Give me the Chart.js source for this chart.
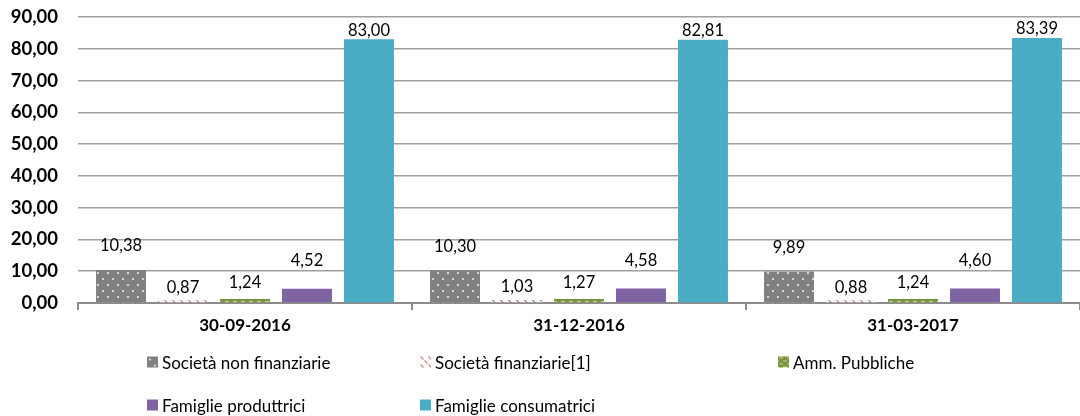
<!DOCTYPE html>
<html><head><meta charset="utf-8">
<script src="https://cdn.jsdelivr.net/npm/chart.js@4/dist/chart.umd.min.js"></script>
<style>
html,body{margin:0;padding:0;background:#fff;}
#wrap{position:relative;width:1080px;height:416px;overflow:hidden}
#legend{position:absolute;left:0;top:0;width:1080px;height:416px;pointer-events:none;font-family:Lato,'Open Sans',sans-serif;font-size:17px;color:#000}
.li{position:absolute;display:flex;align-items:center;white-space:nowrap;transform:translateY(-50%)}
.li canvas{width:11px;height:11px;margin-right:4px;display:block}
</style></head><body>
<div id="wrap"><canvas id="c" width="1080" height="416"></canvas><div id="legend"></div></div>
<script>
// ---- data ----
const categories = ['30-09-2016', '31-12-2016', '31-03-2017'];
const seriesNames = ['Società non finanziarie', 'Società finanziarie[1]', 'Amm. Pubbliche', 'Famiglie produttrici', 'Famiglie consumatrici'];
const societaNonFinanziarie = [10.38, 10.30, 9.89];
const societaFinanziarie = [0.87, 1.03, 0.88];
const ammPubbliche = [1.24, 1.27, 1.24];
const famiglieProduttrici = [4.52, 4.58, 4.60];
const famiglieConsumatrici = [83.00, 82.81, 83.39];
const yTickValues = [0, 10, 20, 30, 40, 50, 60, 70, 80, 90];

// ---- patterns ----
function makeTile(w, h, draw) {
  const c = document.createElement('canvas'); c.width = w; c.height = h;
  const x = c.getContext('2d'); draw(x); return c;
}
const dotTile = makeTile(10, 12, x => {
  x.fillStyle = '#808080'; x.fillRect(0, 0, 10, 12);
  x.fillStyle = '#d6d6d6'; x.fillRect(2, 2, 2, 2); x.fillRect(7, 8, 2, 2);
});
const diagTile = makeTile(8, 8, x => {
  x.fillStyle = '#ffffff'; x.fillRect(0, 0, 8, 8);
  x.fillStyle = '#d58b89';
  for (let i = 0; i < 3; i++) { x.fillRect(i, i, 1, 1); x.fillRect(4 + i, 4 + i, 1, 1); x.fillRect(i+1, i, 1, 1); x.fillRect(5 + i, 4 + i, 1, 1); }
});
const brickTile = makeTile(8, 6, x => {
  x.fillStyle = '#77933c'; x.fillRect(0, 0, 8, 6);
  x.fillStyle = '#c3d69b'; x.fillRect(1, 1, 4, 1); x.fillRect(5, 4, 3, 1); x.fillRect(0, 4, 1, 1);
});
const ctx = document.getElementById('c').getContext('2d');
const fills = [
  ctx.createPattern(dotTile, 'repeat'),
  ctx.createPattern(diagTile, 'repeat'),
  ctx.createPattern(brickTile, 'repeat'),
  '#8064a2',
  '#4bacc6'
];
const tiles = [dotTile, diagTile, brickTile, null, null];
const labelOffsets = [24, 13, 16, 28, 9];
const seriesData = [societaNonFinanziarie, societaFinanziarie, ammPubbliche, famiglieProduttrici, famiglieConsumatrici];

const fmt = v => v.toFixed(2).replace('.', ',');

const valueLabels = {
  id: 'valueLabels',
  afterDatasetsDraw(chart) {
    const c = chart.ctx;
    c.save();
    c.font = '16.5px Lato, sans-serif';
    c.fillStyle = '#000';
    c.textAlign = 'center';
    c.textBaseline = 'middle';
    chart.data.datasets.forEach((ds, di) => {
      const meta = chart.getDatasetMeta(di);
      meta.data.forEach((el, i) => {
        c.fillText(fmt(ds.data[i]), el.x, el.y - ds.labelOffset);
      });
    });
    c.restore();
  }
};

new Chart(ctx, {
  type: 'bar',
  data: {
    labels: categories,
    datasets: seriesNames.map((n, i) => ({
      label: n,
      data: seriesData[i],
      backgroundColor: fills[i],
      borderWidth: 0,
      labelOffset: labelOffsets[i],
      barPercentage: 0.806,
      categoryPercentage: 0.928
    }))
  },
  options: {
    responsive: false,
    animation: false,
    layout: { padding: { top: 17, right: 0, left: 0, bottom: 0 } },
    plugins: { legend: { display: false }, tooltip: { enabled: false } },
    scales: {
      x: {
        grid: { offset: true, drawOnChartArea: false, drawTicks: true, tickLength: 7, color: '#8c8c8c', lineWidth: 2 },
        border: { display: true, color: '#8c8c8c', width: 2 },
        ticks: { color: '#000', font: { family: 'Lato', size: 17, weight: 'bold' }, padding: 5 },
        afterFit(s) { s.height = 113; }
      },
      y: {
        min: 0, max: 90,
        afterBuildTicks(s) { s.ticks = yTickValues.map(v => ({ value: v })); },
        grid: { drawTicks: true, tickLength: 16, tickColor: 'rgba(0,0,0,0)', color: '#a0a0a0', lineWidth: 1.6 },
        border: { display: false },
        ticks: { color: '#000', font: { family: 'Lato', size: 18.5, weight: 'bold' }, padding: 4, callback: v => fmt(v) },
        afterFit(s) { s.width = 78; }
      }
    }
  },
  plugins: [valueLabels]
});

// ---- legend ----
const legendPos = [[147, 362], [420, 362], [778, 362], [147, 405], [420, 405]];
const lg = document.getElementById('legend');
seriesNames.forEach((n, i) => {
  const d = document.createElement('div'); d.className = 'li';
  d.style.left = legendPos[i][0] + 'px'; d.style.top = legendPos[i][1] + 'px';
  const sw = document.createElement('canvas'); sw.width = 11; sw.height = 11;
  const sx = sw.getContext('2d');
  sx.fillStyle = tiles[i] ? sx.createPattern(tiles[i], 'repeat') : fills[i];
  sx.fillRect(0, 0, 11, 11);
  d.appendChild(sw);
  const t = document.createElement('span'); t.textContent = n; d.appendChild(t);
  lg.appendChild(d);
});
</script>
</body></html>
